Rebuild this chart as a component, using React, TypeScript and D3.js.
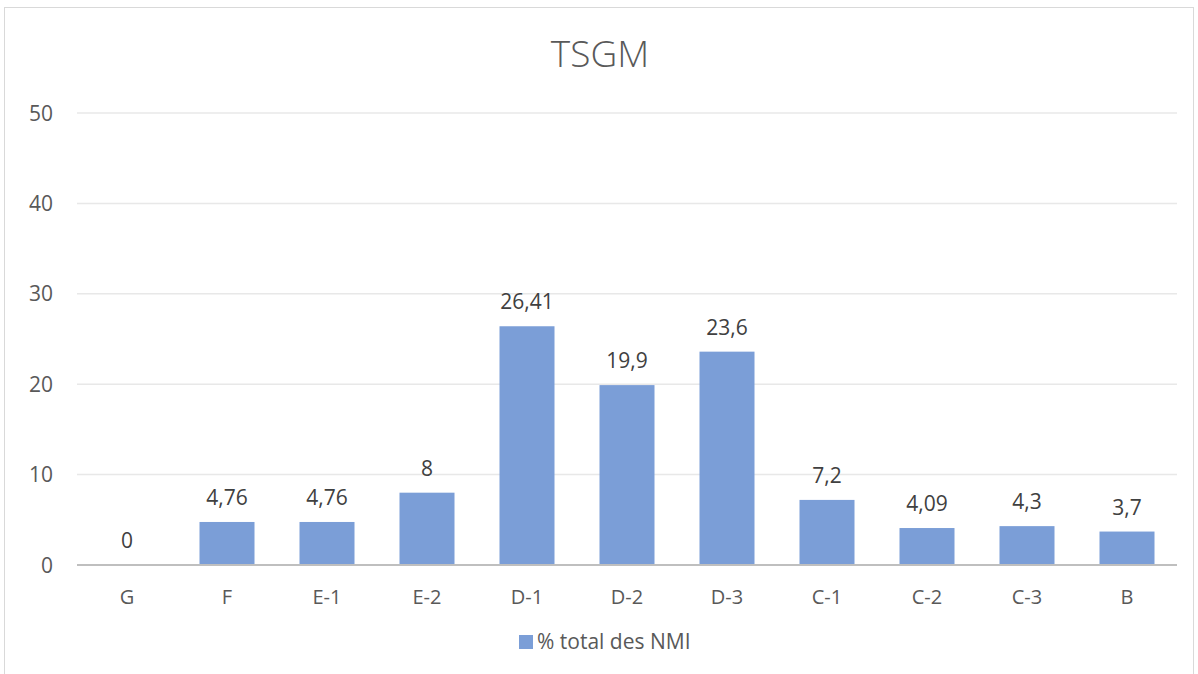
import React from "react";
import * as d3 from "d3";

const categories = ["G", "F", "E-1", "E-2", "D-1", "D-2", "D-3", "C-1", "C-2", "C-3", "B"];
const values = [0, 4.76, 4.76, 8, 26.41, 19.9, 23.6, 7.2, 4.09, 4.3, 3.7];
const valueLabels = ["0", "4,76", "4,76", "8", "26,41", "19,9", "23,6", "7,2", "4,09", "4,3", "3,7"];
const yTicks = [0, 10, 20, 30, 40, 50];
const title = "TSGM";
const seriesName = "% total des NMI";

const W = 1198;
const H = 674;
const FONT = "'Open Sans', 'Noto Sans', sans-serif";
const TXT = "#595959";
const BAR = "#7b9ed7";

export default function App() {
  const left = 77, right = 1177, top = 113, bottom = 565;
  const x = d3.scaleBand<string>().domain(categories).range([left, right]).paddingInner(0.45).paddingOuter(0.225);
  const y = d3.scaleLinear().domain([0, 50]).range([bottom, top]);
  return (
    <svg width={W} height={H} style={{ position: "absolute", left: 0, top: 0 }}>
      <rect x={0} y={0} width={W} height={H} fill="#fff" />
      <rect x={4.5} y={7.5} width={1189} height={700} fill="#fff" stroke="#d9d9d9" strokeWidth={1} />
      <text x={600} y={67} textAnchor="middle" fontFamily={FONT} fontWeight={300} fontSize={37} fill={TXT}>{title}</text>
      {yTicks.map((t) => (
        <g key={t}>
          {t > 0 && <line x1={left} x2={right} y1={y(t)} y2={y(t)} stroke="#e8e8e8" strokeWidth={1.5} />}
          <text x={53} y={y(t)} dy="0.36em" textAnchor="end" fontFamily={FONT} fontSize={21} fill={TXT}>{t}</text>
        </g>
      ))}
      {categories.map((c, i) => (
        <g key={c}>
          <rect x={x(c)!} y={y(values[i])} width={x.bandwidth()} height={bottom - y(values[i])} fill={BAR} />
          <text x={x(c)! + x.bandwidth() / 2} y={y(values[i]) - 17} textAnchor="middle" fontFamily={FONT} fontSize={21} fill="#404040">{valueLabels[i]}</text>
          <text x={x(c)! + x.bandwidth() / 2} y={604} textAnchor="middle" fontFamily={FONT} fontSize={20} fill={TXT}>{c}</text>
        </g>
      ))}
      <line x1={left} x2={right} y1={bottom} y2={bottom} stroke="#bfbfbf" strokeWidth={2} />
      <rect x={519} y={635} width={14} height={14} fill={BAR} />
      <text x={537} y={649} fontFamily={FONT} fontSize={21} fill={TXT}>{seriesName}</text>
    </svg>
  );
}
